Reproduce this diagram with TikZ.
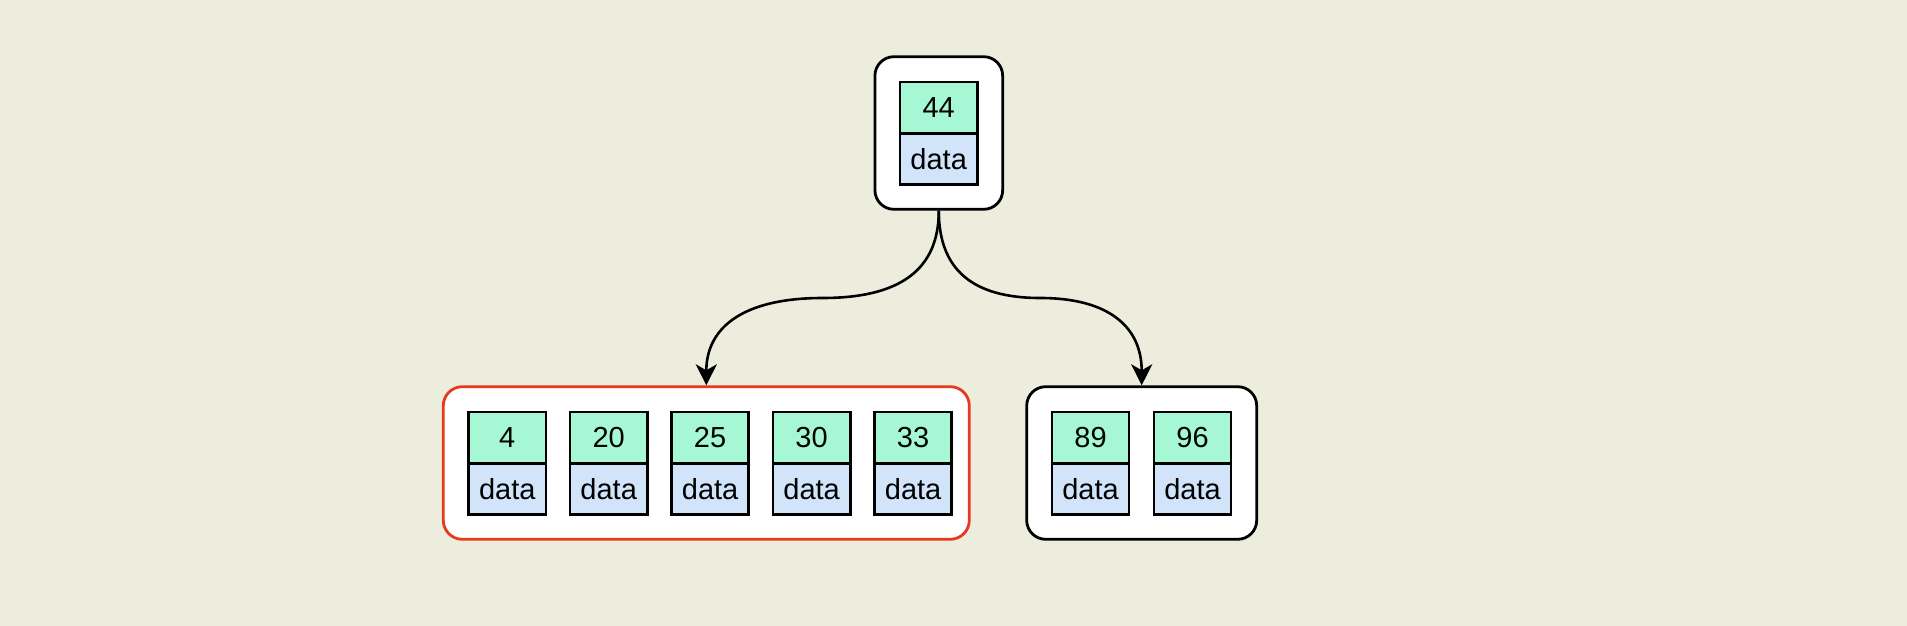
\documentclass[tikz,border=0pt]{standalone}
\usepackage{fontspec}
\setmainfont{Liberation Sans}
\usetikzlibrary{arrows.meta}
\definecolor{bgc}{HTML}{EDEDDE}
\definecolor{keyc}{HTML}{A6F8D5}
\definecolor{datac}{HTML}{D1E4FA}
\definecolor{redc}{HTML}{E8391F}
\tikzset{
  group/.style={draw=black, fill=white, line width=2.8pt, rounded corners=19pt, minimum height=152.6pt, inner sep=0pt},
  keycell/.style={draw=black, fill=keyc, line width=2.6pt, minimum width=77.3pt, minimum height=51.3pt, inner sep=0pt, font=\fontsize{29}{35}\selectfont},
  datacell/.style={keycell, fill=datac},
  link/.style={line width=2.6pt, -{Stealth[length=21pt,width=21pt,inset=6pt]}}
}
\begin{document}
\begin{tikzpicture}[x=1pt,y=-1pt]
\fill[bgc] (0,0) rectangle (1907,626);
\useasboundingbox (0,0) rectangle (1907,626);
% groups
\node[group, minimum width=127.7pt] (top) at (938.8,133) {};
\node[group, draw=redc, minimum width=526pt] (lbox) at (706.3,463) {};
\node[group, minimum width=230pt] (rbox) at (1141.7,463) {};
% top cells
\node[keycell] (k44) at (938.7,107.7) {44};
\node[datacell] (d44) at (938.7,159) {data};
% left cells
\node[keycell] (k4) at (507.3,437.8) {4};
\node[datacell] (d4) at (507.3,489.1) {data};
\node[keycell] (k20) at (608.7,437.8) {20};
\node[datacell] (d20) at (608.7,489.1) {data};
\node[keycell] (k25) at (710.1,437.8) {25};
\node[datacell] (d25) at (710.1,489.1) {data};
\node[keycell] (k30) at (811.6,437.8) {30};
\node[datacell] (d30) at (811.6,489.1) {data};
\node[keycell] (k33) at (913.1,437.8) {33};
\node[datacell] (d33) at (913.1,489.1) {data};
% right cells
\node[keycell] (k89) at (1090.5,437.8) {89};
\node[datacell] (d89) at (1090.5,489.1) {data};
\node[keycell] (k96) at (1192.5,437.8) {96};
\node[datacell] (d96) at (1192.5,489.1) {data};
% connectors
\coordinate (m1) at (822.5,298);
\coordinate (m2) at (1040.25,298);
\draw[link] (top.south) .. controls +(0,59.1) and +(77.5,0) .. (m1)
  .. controls +(-77.5,0) and +(0,-59.1) .. (lbox.north);
\draw[link] (top.south) .. controls +(0,59.1) and +(-67.6,0) .. (m2)
  .. controls +(67.6,0) and +(0,-59.1) .. (rbox.north);
\end{tikzpicture}
\end{document}
